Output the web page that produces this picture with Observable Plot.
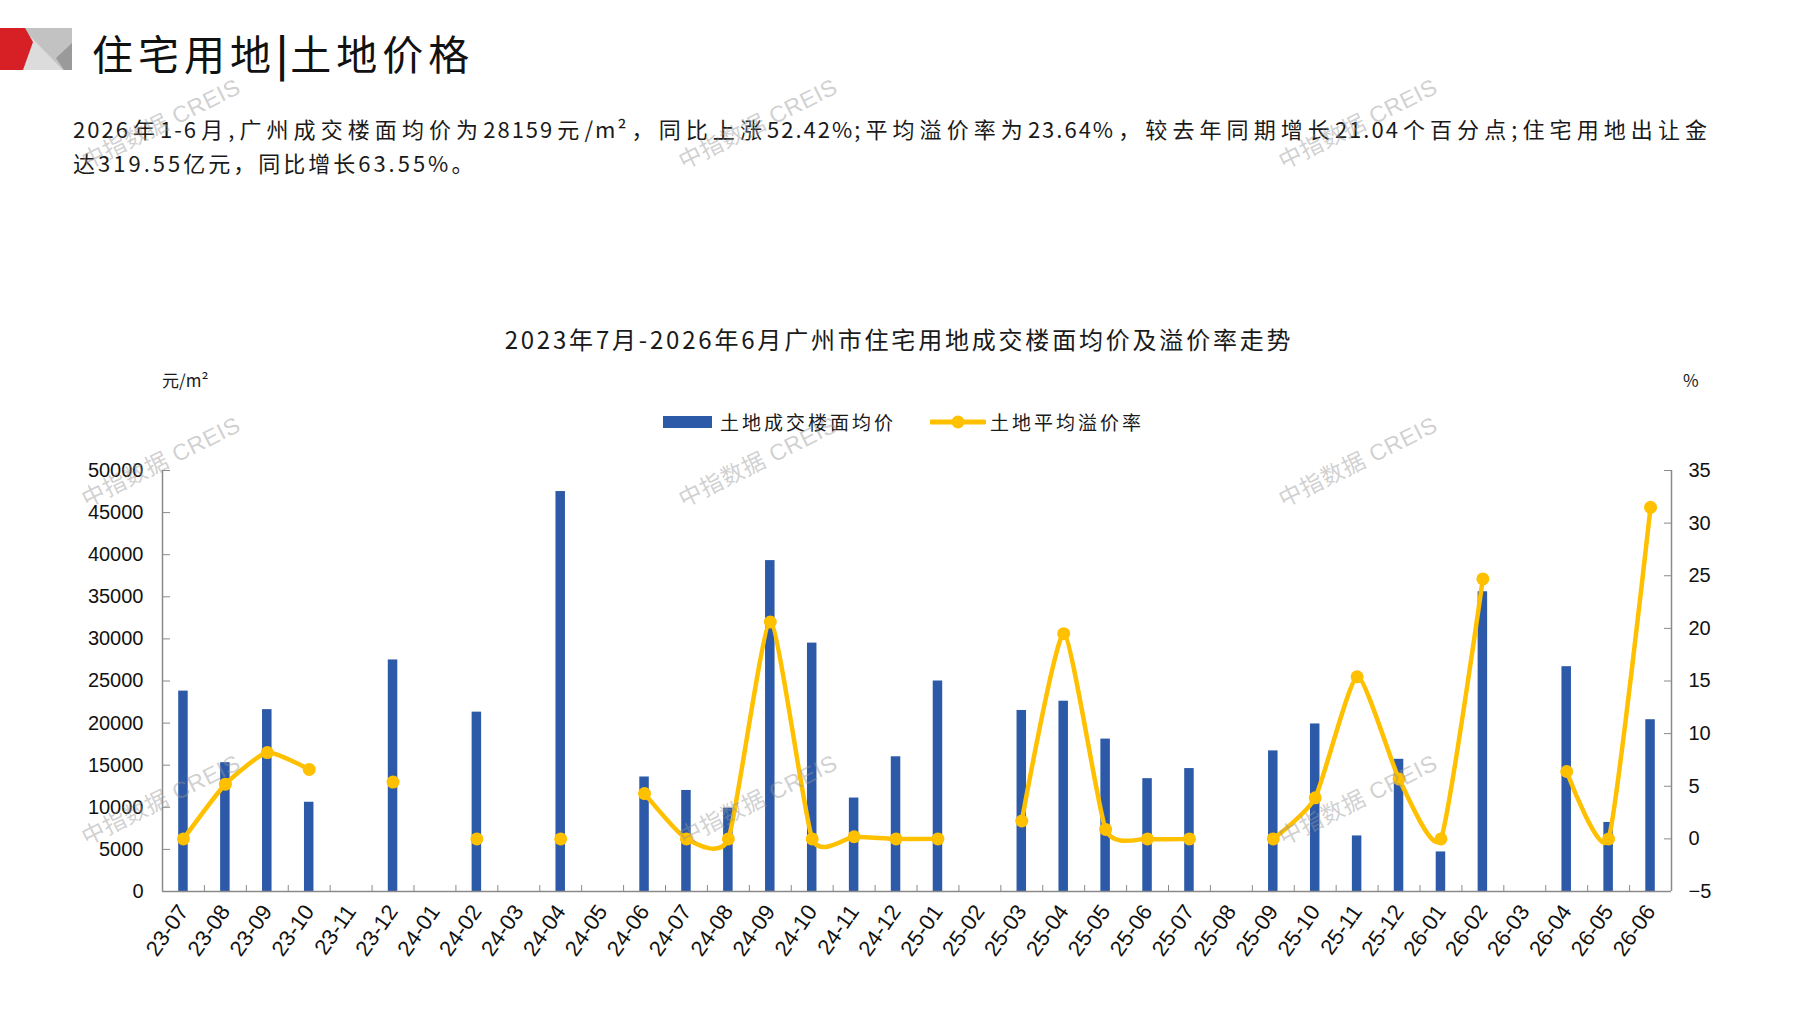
<!DOCTYPE html>
<html>
<head>
<meta charset="utf-8">
<script src="https://cdn.jsdelivr.net/npm/d3@7"></script>
<script src="https://cdn.jsdelivr.net/npm/@observablehq/plot@0.6"></script>
<style>
  html, body { margin: 0; padding: 0; background: #fff; }
  body { width: 1797px; height: 1010px; position: relative; overflow: hidden;
         font-family: "Noto Sans CJK SC", sans-serif; color: #1a1a1a; }
  .abs { position: absolute; white-space: nowrap; }
  #title { left: 92px; top: 28px; font-size: 41px; line-height: 48px; letter-spacing: 5px; color: #111; }
  #title .bar { font-weight: 700; letter-spacing: 2px; }
  #para { left: 73px; top: 111px; width: 1636px; font-size: 22px; line-height: 34px; letter-spacing: 3px; white-space: normal; }
  #para .l1 { text-align: justify; text-align-last: justify; white-space: nowrap; letter-spacing: 2px; }
  #ctitle { left: 899px; top: 322px; transform: translateX(-50%); font-size: 24px; line-height: 34px; letter-spacing: 2.8px; }
  .unit { top: 368px; font-size: 17px; line-height: 24px; }
  #legend { left: 0; top: 408px; height: 28px; font-size: 19px; line-height: 28px; letter-spacing: 3px; }
  .wm { font-family: "Liberation Sans", Arial, "Noto Sans CJK SC", sans-serif; font-size: 23px; color: rgba(150,150,150,0.45);
        transform: translate(-50%, -50%) rotate(-26.5deg); pointer-events: none; z-index: 5; letter-spacing: 0.5px; }
  #chart { left: 0; top: 440px; }
</style>
</head>
<body>
<svg class="abs" style="left:0;top:0" width="80" height="80" viewBox="0 0 80 80">
  <rect x="22" y="28" width="50" height="42" fill="#c2c2c2"/>
  <polygon points="30,36 63,70 22,70" fill="#dcdcdc"/>
  <polygon points="72,43 56,58 64,70 72,70" fill="#9a9a9a"/>
  <polygon points="0,28 25,28 33,42 23,70 0,70" fill="#d71f26"/>
</svg>
<div id="title" class="abs">住宅用地<span class="bar">|</span>土地价格</div>
<div id="para" class="abs">
  <div class="l1">2026年1-6月,广州成交楼面均价为28159元/m²，同比上涨52.42%;平均溢价率为23.64%，较去年同期增长21.04个百分点;住宅用地出让金</div>
  <div>达319.55亿元，同比增长63.55%。</div>
</div>
<div id="ctitle" class="abs">2023年7月-2026年6月广州市住宅用地成交楼面均价及溢价率走势</div>
<div class="abs unit" style="left:162px">元/m²</div>
<div class="abs unit" style="left:1683px">%</div>
<div id="legend" class="abs"></div>
<div id="chart" class="abs"></div>

<script>
// ---- data ----
const months = ["23-07","23-08","23-09","23-10","23-11","23-12","24-01","24-02","24-03","24-04","24-05","24-06",
                "24-07","24-08","24-09","24-10","24-11","24-12","25-01","25-02","25-03","25-04","25-05","25-06",
                "25-07","25-08","25-09","25-10","25-11","25-12","26-01","26-02","26-03","26-04","26-05","26-06"];
// 土地成交楼面均价 (元/m²)
const price = [23800,15300,21600,10600,null,27500,null,21300,null,47500,null,13600,
               12000,9900,39300,29500,11100,16000,25000,null,21500,22600,18100,13400,
               14600,null,16700,19900,6600,15700,4700,35600,null,26700,8200,20400];
// 土地平均溢价率 (%)
const premium = [0,5.2,8.2,6.6,null,5.4,null,0,null,0,null,4.3,
                 0,0,20.6,0,0.2,0,0,null,1.7,19.5,0.9,0,
                 0,null,0,3.9,15.4,5.7,0,24.7,null,6.4,0,31.5];
const leftTicks = [0,5000,10000,15000,20000,25000,30000,35000,40000,45000,50000];
const rightTicks = [-5,0,5,10,15,20,25,30,35];
const seriesNames = ["土地成交楼面均价","土地平均溢价率"];
const colors = {bar: "#2c5aa8", line: "#ffc000", axis: "#8a8a8a"};

// ---- layout ----
const W = 1797, ML = 162, MR = W - 1671, MT = 30, PH = 421, MB = 112, H = MT + PH + MB;
const PW = W - ML - MR;
const step = PW / months.length;

// right axis (-5..35) mapped onto left domain (0..50000)
const rMin = -5, rMax = 35, lMax = 50000;
const toLeft = p => (p - rMin) / (rMax - rMin) * lMax;
const fromLeft = v => v / lMax * (rMax - rMin) + rMin;

const rows = months.map((m, i) => ({
  m, price: price[i], rate: premium[i],
  ry: premium[i] == null ? NaN : toLeft(premium[i])
}));

const fmtMinus = d3.format("d");

const chart = Plot.plot({
  width: W, height: H,
  marginLeft: ML, marginRight: MR, marginTop: MT, marginBottom: MB,
  x: {type: "band", domain: months, padding: 0, label: null},
  y: {domain: [0, lMax], label: null},
  style: {fontFamily: "'Liberation Sans', Arial, sans-serif", fontSize: "20px", color: "#111", background: "transparent"},
  marks: [
    Plot.barY(rows.filter(d => d.price != null), {x: "m", y: "price", fill: colors.bar, insetLeft: (step - 9.5) / 2, insetRight: (step - 9.5) / 2}),
    // axis lines
    Plot.ruleY([0], {stroke: colors.axis, strokeWidth: 1.5}),
    Plot.ruleX([months[0]], {x: d => d, y1: 0, y2: lMax, dx: -step / 2, stroke: colors.axis, strokeWidth: 1.5}),
    Plot.ruleX([months[months.length - 1]], {x: d => d, y1: 0, y2: lMax, dx: step / 2, stroke: colors.axis, strokeWidth: 1.5}),
    // inward ticks
    Plot.axisY(leftTicks, {anchor: "right", tickSize: 7, tickFormat: () => "", dx: -PW, stroke: colors.axis}),
    Plot.axisY(rightTicks.map(toLeft), {anchor: "left", tickSize: 7, tickFormat: () => "", dx: PW, stroke: colors.axis}),
    Plot.axisX(months.slice(1), {anchor: "top", tickSize: 7, tickFormat: () => "", dy: PH, dx: -step / 2, stroke: colors.axis}),
    // tick labels
    Plot.axisY(leftTicks, {anchor: "left", tickSize: 0, tickPadding: 19, tickFormat: d => String(d), fontSize: 20}),
    Plot.axisY(rightTicks.map(toLeft), {anchor: "right", tickSize: 0, tickPadding: 17, tickFormat: v => fmtMinus(Math.round(fromLeft(v))), fontSize: 20}),
    Plot.axisX(months, {anchor: "bottom", tickSize: 0, tickPadding: 16, tickRotate: -55, fontSize: 22}),
    // premium line + dots
    Plot.line(rows, {x: "m", y: "ry", curve: "cardinal", tension: 0.45, stroke: colors.line, strokeWidth: 4.5}),
    Plot.dot(rows.filter(d => d.rate != null), {x: "m", y: "ry", r: 6.5, fill: colors.line})
  ]
});
document.getElementById("chart").appendChild(chart);

// ---- legend ----
const lg = document.getElementById("legend");
lg.innerHTML =
  `<div class="abs" style="left:663px;top:8px;width:49px;height:12px;background:${colors.bar}"></div>` +
  `<div class="abs" style="left:720px;top:0">${seriesNames[0]}</div>` +
  `<svg class="abs" style="left:930px;top:0" width="56" height="28"><line x1="1" y1="14" x2="54" y2="14" stroke="${colors.line}" stroke-width="5" stroke-linecap="round"/><circle cx="28" cy="14" r="6.5" fill="${colors.line}"/></svg>` +
  `<div class="abs" style="left:990px;top:0">${seriesNames[1]}</div>`;

// ---- watermarks ----
const wmX = [160, 757, 1357], wmY = [122, 460, 798];
for (const y of wmY) for (const x of wmX) {
  const d = document.createElement("div");
  d.className = "abs wm";
  d.style.left = x + "px"; d.style.top = y + "px";
  d.textContent = "中指数据 CREIS";
  document.body.appendChild(d);
}
</script>
</body>
</html>
